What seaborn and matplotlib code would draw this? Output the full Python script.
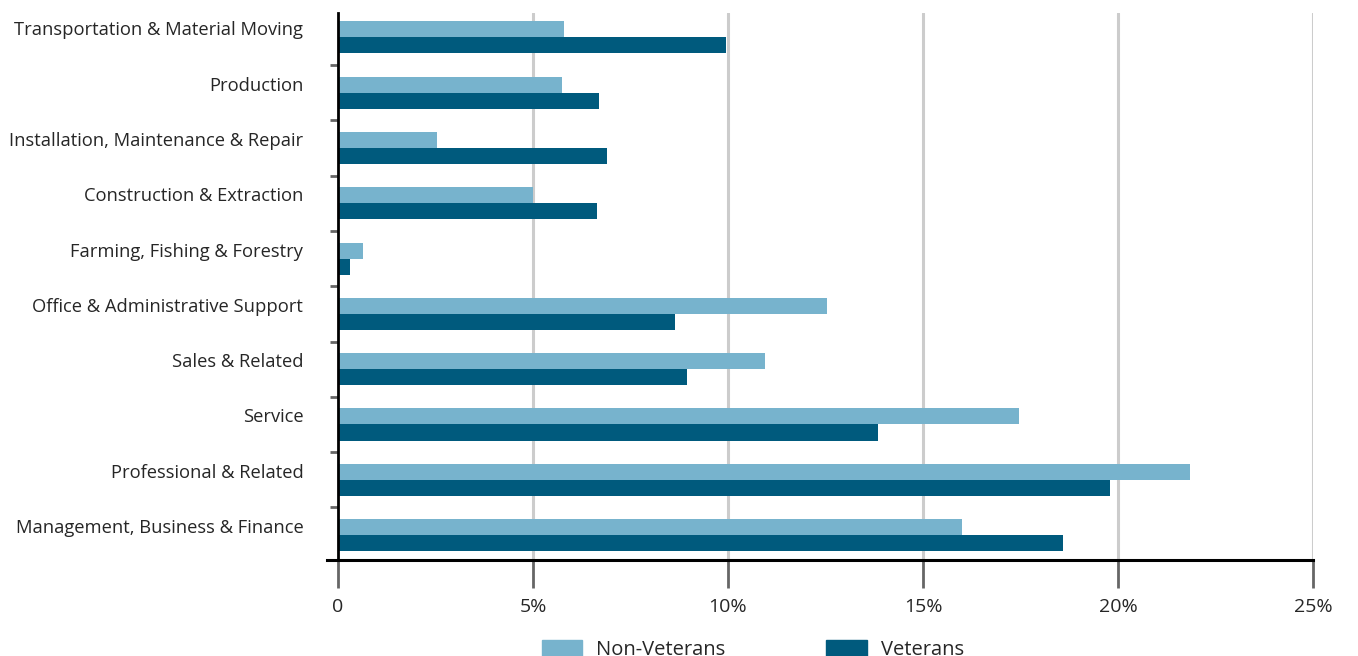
import pandas as pd
import matplotlib
matplotlib.use("Agg")
import matplotlib.pyplot as plt
import matplotlib.transforms as mtransforms
import seaborn as sns

# occupation categories, top to bottom
occupations = [
    'Transportation & Material Moving',
    'Production',
    'Installation, Maintenance & Repair',
    'Construction & Extraction',
    'Farming, Fishing & Forestry',
    'Office & Administrative Support',
    'Sales & Related',
    'Service',
    'Professional & Related',
    'Management, Business & Finance',
]
non_veterans = [5.8, 5.75, 2.55, 5.0, 0.65, 12.55, 10.95, 17.45, 21.85, 16.0]
veterans = [9.95, 6.7, 6.9, 6.65, 0.3, 8.65, 8.95, 13.85, 19.8, 18.6]
groups = ['Non-Veterans', 'Veterans']
colors = ['#77B3CD', '#005A7D']

df = pd.DataFrame({
    'occupation': occupations * 2,
    'share': non_veterans + veterans,
    'group': [groups[0]] * len(occupations) + [groups[1]] * len(occupations),
})

sns.set_theme(style='white')
plt.rcParams['font.family'] = ['Open Sans', 'DejaVu Sans']

fig = plt.figure(figsize=(13.58, 6.56), dpi=100)
ax = fig.add_axes([338 / 1358, 1 - 560 / 656, (1313 - 338) / 1358, (560 - 13) / 656])

sns.barplot(data=df, y='occupation', x='share', hue='group', order=occupations,
            hue_order=groups, palette=colors, width=0.58, saturation=1,
            orient='h', ax=ax, legend=False, linewidth=0, edgecolor='none')

ax.set_xlim(0, 25)
ax.set_ylim(9.45, -0.44)
ax.set_xlabel('')
ax.set_ylabel('')

# grid lines
ax.set_xticks([0, 5, 10, 15, 20, 25])
ax.set_xticklabels(['0', '5%', '10%', '15%', '20%', '25%'])
for x in [5, 10, 15, 20, 25]:
    ax.axvline(x, color='#CCCCCC', lw=2.2, zorder=0)

# category labels without ticks, separators between categories
ax.set_yticks(range(len(occupations)))
ax.set_yticklabels(occupations)
ax.set_yticks([i + 0.5 for i in range(len(occupations) - 1)], minor=True)
ax.tick_params(axis='y', which='major', length=0, pad=25, labelsize=13.2, labelcolor='#262626')
ax.tick_params(axis='y', which='minor', length=6, width=2, color='#666666', left=True)
ax.tick_params(axis='x', which='major', length=20, width=2, color='#666666', bottom=True,
               pad=7, labelsize=14, labelcolor='#262626')

# labels sit a little above the bar pair centre
shift = mtransforms.ScaledTranslation(0, 0.09, fig.dpi_scale_trans)
for lab in ax.get_yticklabels():
    lab.set_transform(lab.get_transform() + shift)

for s in ['top', 'right']:
    ax.spines[s].set_visible(False)
ax.spines['left'].set_color('black')
ax.spines['left'].set_linewidth(2)
ax.spines['bottom'].set_color('black')
ax.spines['bottom'].set_linewidth(2.2)
ax.spines['bottom'].set_bounds(-0.28, 25)

handles = [plt.Rectangle((0, 0), 1, 1, color=c) for c in colors]
fig.legend(handles, groups, loc='center', bbox_to_anchor=(753 / 1358, 6 / 656),
           ncol=2, frameon=False, fontsize=14.5, handlelength=2.0, handleheight=0.9,
           columnspacing=5.0, handletextpad=0.7, labelcolor='#262626')

fig.savefig('out.png', dpi=100)
